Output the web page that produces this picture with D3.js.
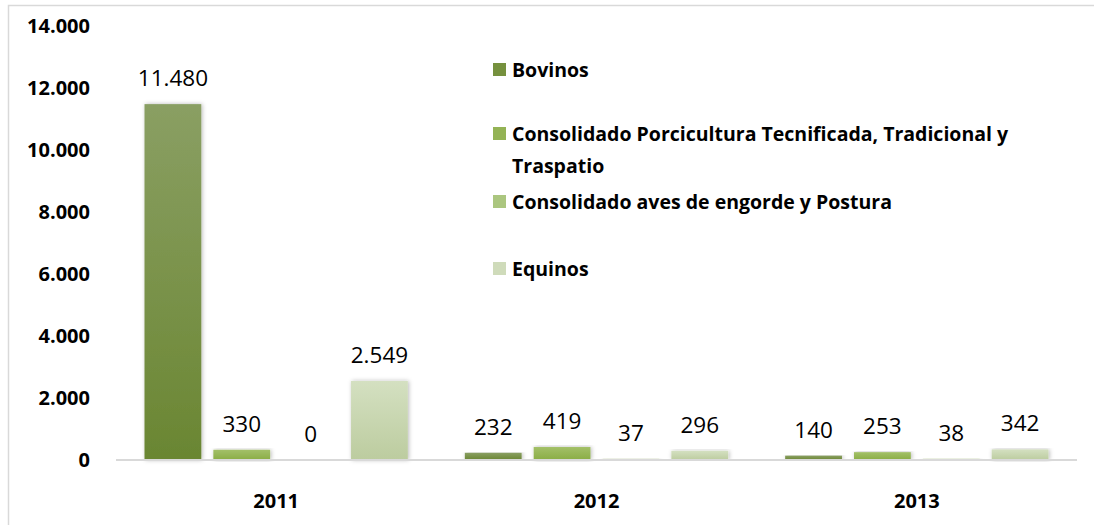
<!DOCTYPE html>
<html>
<head>
<meta charset="utf-8">
<script src="https://cdn.jsdelivr.net/npm/d3@7"></script>
<style>
  html, body { margin: 0; padding: 0; background: #fff; }
  svg { display: block; }
  text { font-family: "Open Sans", "Noto Sans", sans-serif; fill: #000; }
</style>
</head>
<body>
<svg id="chart" width="1094" height="525"></svg>
<script>
// Years on the category axis
const years = ["2011", "2012", "2013"];

// One series per species group
const seriesNames = [
  "Bovinos",
  "Consolidado Porcicultura Tecnificada, Tradicional y Traspatio",
  "Consolidado aves de engorde y Postura",
  "Equinos"
];
const bovinos      = [11480, 232, 140];
const porcicultura = [330, 419, 253];
const aves         = [0, 37, 38];
const equinos      = [2549, 296, 342];

const yTicks = [0, 2000, 4000, 6000, 8000, 10000, 12000, 14000];

// Legend text, split into the lines it is drawn on
const legendLines = [
  ["Bovinos"],
  ["Consolidado Porcicultura Tecnificada, Tradicional y", "Traspatio"],
  ["Consolidado aves de engorde y Postura"],
  ["Equinos"]
];

// Top/bottom gradient stops for each series
const colorTop    = ["#8a9f63", "#a3c068", "#b5cc8c", "#d4e0c1"];
const colorBottom = ["#6a8632", "#8aad45", "#a1bf6c", "#bccc9f"];
const legendColor = ["#76913e", "#94b355", "#abc67f", "#cfdbba"];

const values = [bovinos, porcicultura, aves, equinos];

const svg = d3.select("#chart");
const fmt = d3.formatLocale({ decimal: ",", thousands: ".", grouping: [3], currency: ["", ""] }).format(",d");

// Outer frame (top and left edges)
svg.append("path")
  .attr("d", "M8.5,525 L8.5,5.5 L1094,5.5")
  .attr("fill", "none").attr("stroke", "#d9d9d9").attr("stroke-width", 1.5);

const defs = svg.append("defs");
seriesNames.forEach((s, i) => {
  const g = defs.append("linearGradient")
    .attr("id", "grad" + i).attr("x1", 0).attr("y1", 0).attr("x2", 0).attr("y2", 1);
  g.append("stop").attr("offset", "0%").attr("stop-color", colorTop[i]);
  g.append("stop").attr("offset", "100%").attr("stop-color", colorBottom[i]);
});
const shadow = defs.append("filter").attr("id", "shadow")
  .attr("x", "-30%").attr("y", "-10%").attr("width", "160%").attr("height", "120%");
shadow.append("feDropShadow").attr("dx", 1).attr("dy", 0).attr("stdDeviation", 2.2)
  .attr("flood-color", "#000").attr("flood-opacity", 0.28);

const plotLeft = 116, plotRight = 1077;
const y = d3.scaleLinear().domain([0, 14000]).range([460, 26]);
const x0 = d3.scaleBand().domain(years).range([plotLeft, plotRight]).paddingInner(0).paddingOuter(0);
const x1 = d3.scaleBand().domain(d3.range(seriesNames.length))
  .range([28.5, x0.bandwidth() - 28.5]).paddingInner(0.175).paddingOuter(0);

// Y axis labels (no axis line, no ticks)
const yAxis = svg.append("g").attr("transform", "translate(90,0)")
  .call(d3.axisLeft(y).tickValues(yTicks).tickFormat(d => fmt(d)).tickSize(0).tickPadding(0));
yAxis.select(".domain").remove();
yAxis.selectAll("text")
  .style("font-family", "'Open Sans', sans-serif")
  .style("font-weight", "bold").style("font-size", "20px").attr("fill", "#000");

// Bars
const groups = svg.append("g").selectAll("g").data(years).join("g")
  .attr("transform", d => `translate(${x0(d)},0)`);

groups.selectAll("rect")
  .data((d, yi) => values.map((v, si) => ({ si, v: v[yi] })))
  .join("rect")
  .attr("x", d => x1(d.si))
  .attr("width", x1.bandwidth())
  .attr("y", d => y(d.v))
  .attr("height", d => y(0) - y(d.v))
  .attr("fill", d => `url(#grad${d.si})`)
  .attr("filter", d => d.v > 0 ? "url(#shadow)" : null);

// Baseline and year labels
const xAxis = svg.append("g").attr("transform", `translate(0,${y(0)})`)
  .call(d3.axisBottom(x0).tickSize(0).tickPadding(0));
xAxis.select(".domain").attr("stroke", "#d9d9d9").attr("stroke-width", 2)
  .attr("d", `M${plotLeft},0H${plotRight}`);
xAxis.selectAll("text")
  .attr("y", 48).attr("dy", 0)
  .style("font-family", "'Open Sans', sans-serif")
  .style("font-weight", "bold").style("font-size", "20px").attr("fill", "#000");

// Value labels above each bar
groups.selectAll("text.val")
  .data((d, yi) => values.map((v, si) => ({ si, v: v[yi] })))
  .join("text").attr("class", "val")
  .attr("x", d => x1(d.si) + x1.bandwidth() / 2)
  .attr("y", d => y(d.v) - 18)
  .attr("text-anchor", "middle")
  .style("font-size", "22.5px")
  .text(d => fmt(d.v));

// Legend
const legendY = [70, 134, 202, 269];
const legend = svg.append("g");
legendLines.forEach((lines, i) => {
  legend.append("rect")
    .attr("x", 493).attr("y", legendY[i] - 7).attr("width", 13).attr("height", 13)
    .attr("fill", legendColor[i]);
  lines.forEach((t, li) => {
    legend.append("text")
      .attr("x", 512).attr("y", legendY[i] + 7 + li * 32)
      .style("font-weight", "bold").style("font-size", "19.5px")
      .text(t);
  });
});
</script>
</body>
</html>
